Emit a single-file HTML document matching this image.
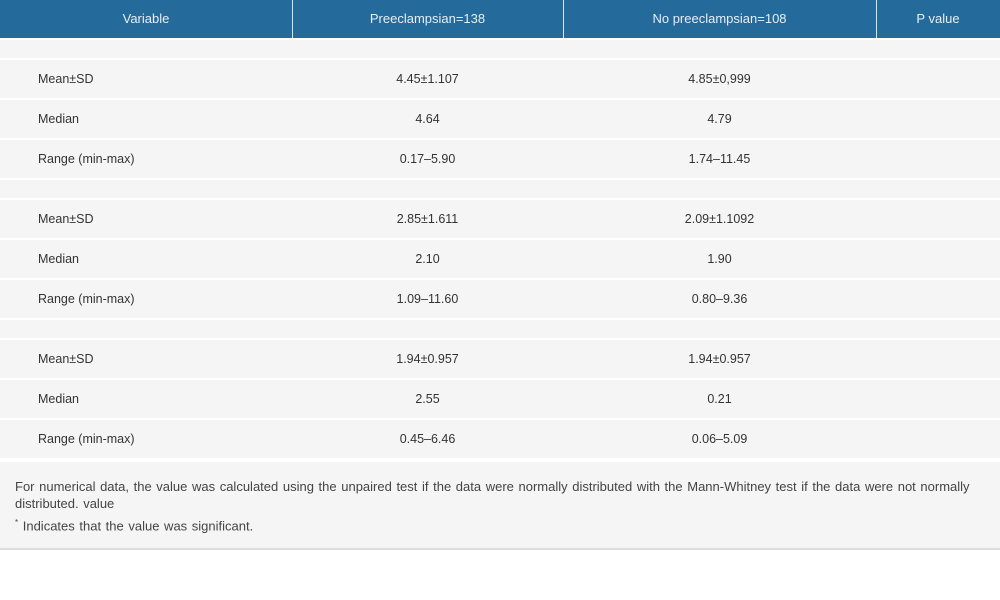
<!DOCTYPE html>
<html><head><style>
body{margin:0;width:1000px;height:600px;background:#fff;font-family:"Liberation Sans",sans-serif;font-size:12.5px;color:#333;position:relative;overflow:hidden}
.hd{position:absolute;top:0;left:0;width:1000px;height:38px;background:#246a9b}
.hd div{position:absolute;top:0;height:38px;line-height:38px;text-align:center;color:#e8eef4;font-size:13px}
.vl{position:absolute;top:0;width:1px;height:38px;background:#d8e4ee}
.r{position:absolute;left:0;width:1000px;background:#f5f5f5}
.r span{position:absolute;top:0;line-height:inherit}
.c1{left:38px}
.c2{left:292px;width:271px;text-align:center}
.c3{left:563px;width:313px;text-align:center}
.ft{position:absolute;left:0;top:462px;width:1000px;height:86px;background:#f5f5f5;border-bottom:2px solid #ddd}
.ft p{margin:0;position:absolute;left:15px;width:966px;font-size:13px;word-spacing:1px;line-height:17px;color:#444}
</style></head><body>
<div class="hd">
<div style="left:0;width:292px">Variable</div>
<div style="left:292px;width:271px">Preeclampsian=138</div>
<div style="left:563px;width:313px">No preeclampsian=108</div>
<div style="left:876px;width:124px">P value</div>
<span class="vl" style="left:292px"></span><span class="vl" style="left:563px"></span><span class="vl" style="left:876px"></span>
</div>
<div class="r" style="top:40px;height:18px"></div>
<div class="r" style="top:60px;height:38px;line-height:38px"><span class="c1">Mean±SD</span><span class="c2">4.45±1.107</span><span class="c3">4.85±0,999</span></div>
<div class="r" style="top:100px;height:38px;line-height:38px"><span class="c1">Median</span><span class="c2">4.64</span><span class="c3">4.79</span></div>
<div class="r" style="top:140px;height:38px;line-height:38px"><span class="c1">Range (min-max)</span><span class="c2">0.17–5.90</span><span class="c3">1.74–11.45</span></div>
<div class="r" style="top:180px;height:18px"></div>
<div class="r" style="top:200px;height:38px;line-height:38px"><span class="c1">Mean±SD</span><span class="c2">2.85±1.611</span><span class="c3">2.09±1.1092</span></div>
<div class="r" style="top:240px;height:38px;line-height:38px"><span class="c1">Median</span><span class="c2">2.10</span><span class="c3">1.90</span></div>
<div class="r" style="top:280px;height:38px;line-height:38px"><span class="c1">Range (min-max)</span><span class="c2">1.09–11.60</span><span class="c3">0.80–9.36</span></div>
<div class="r" style="top:320px;height:18px"></div>
<div class="r" style="top:340px;height:38px;line-height:38px"><span class="c1">Mean±SD</span><span class="c2">1.94±0.957</span><span class="c3">1.94±0.957</span></div>
<div class="r" style="top:380px;height:38px;line-height:38px"><span class="c1">Median</span><span class="c2">2.55</span><span class="c3">0.21</span></div>
<div class="r" style="top:420px;height:38px;line-height:38px"><span class="c1">Range (min-max)</span><span class="c2">0.45–6.46</span><span class="c3">0.06–5.09</span></div>
<div class="ft">
<p style="top:16px">For numerical data, the value was calculated using the unpaired test if the data were normally distributed with the Mann-Whitney test if the data were not normally distributed. value</p>
<p style="top:52px"><sup style="font-size:8px">*</sup> Indicates that the value was significant.</p>
</div>
</body></html>
